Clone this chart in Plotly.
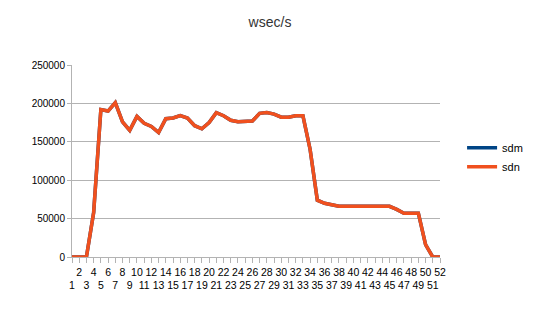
import plotly.graph_objects as go

categories = list(range(1, 53))
tick_labels = [str(c) for c in categories]

sdn = [0, 0, 0, 58000, 192000, 190000, 201000, 176000, 165000, 183000,
       174000, 170000, 162000, 180000, 181000, 184000, 181000, 171000, 167000, 175000,
       188000, 184000, 178000, 176000, 177000, 177000, 187000, 188000, 186000, 182000,
       182000, 184000, 184000, 140000, 74000, 70000, 68000, 66000, 66000, 66000,
       66000, 66000, 66000, 66000, 66000, 62000, 57000, 57000, 57000, 16000,
       0, 0]
sdm = list(sdn)

# staggered category labels: even on first row, odd on second row
ticktext = [t if c % 2 == 0 else "<br>" + t for c, t in zip(categories, tick_labels)]

fig = go.Figure()
fig.add_trace(go.Scatter(x=categories, y=sdm, mode="lines", name="sdm",
                         line=dict(color="#004586", width=3.5)))
fig.add_trace(go.Scatter(x=categories, y=sdn, mode="lines", name="sdn",
                         line=dict(color="#f0501e", width=3.5)))

grid = "#b3b3b3"
fig.update_layout(
    width=540, height=316,
    margin=dict(l=72, r=95, t=65, b=59),
    paper_bgcolor="white", plot_bgcolor="white",
    font=dict(family="Liberation Sans, Arial, sans-serif", size=10, color="#000000"),
    title=dict(text="wsec/s", x=0.5, xanchor="center", y=0.930, yanchor="middle",
               font=dict(size=14, color="#333333")),
    showlegend=True,
    legend=dict(x=1.06, xanchor="left", y=0.52, yanchor="middle",
                font=dict(size=11), bgcolor="rgba(0,0,0,0)", itemwidth=30,
                tracegroupgap=0),
    xaxis=dict(range=[1, 52], tickmode="array", tickvals=categories, ticktext=ticktext,
               showgrid=False, showline=True, linecolor=grid, linewidth=1,
               ticks="outside", ticklen=5, tickcolor=grid, tickangle=0,
               tickfont=dict(size=10.5), zeroline=False),
    yaxis=dict(range=[0, 250000], dtick=50000, tickformat="d",
               showgrid=True, gridcolor=grid, gridwidth=1,
               showline=True, linecolor=grid, linewidth=1,
               ticks="outside", ticklen=4, tickcolor=grid,
               tickfont=dict(size=10), zeroline=False),
)

fig.write_html("out.html")
